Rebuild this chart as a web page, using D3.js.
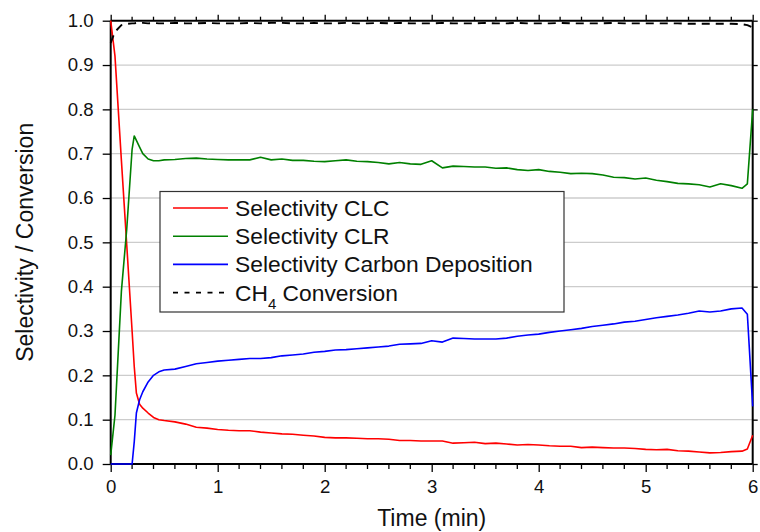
<!DOCTYPE html>
<html>
<head>
<meta charset="utf-8">
<script src="https://cdn.jsdelivr.net/npm/d3@7"></script>
<style>
  html, body { margin: 0; padding: 0; background: #fff; }
  svg { display: block; font-family: "Liberation Sans", Arial, sans-serif; }
</style>
</head>
<body>
<div id="chart"></div>
<script>
const W = 760, H = 532;
const M = { left: 110.7, right: 7.3, top: 20.7, bottom: 68 };

// time axis (min)
const timeMin = [0, 0.04, 0.1, 0.15, 0.2, 0.22, 0.24, 0.27, 0.3, 0.35, 0.4, 0.45, 0.5,
  0.6, 0.7, 0.8, 0.9, 1.0, 1.1, 1.2, 1.3, 1.4, 1.5,
  1.6, 1.7, 1.8, 1.9, 2.0, 2.1, 2.2, 2.3, 2.4, 2.5,
  2.6, 2.7, 2.8, 2.9, 3.0, 3.1, 3.2, 3.3, 3.4, 3.5,
  3.6, 3.7, 3.8, 3.9, 4.0, 4.1, 4.2, 4.3, 4.4, 4.5,
  4.6, 4.7, 4.8, 4.9, 5.0, 5.1, 5.2, 5.3, 5.4, 5.5,
  5.6, 5.7, 5.8, 5.9, 5.95, 6.0];

const selCLC = [1.0, 0.92, 0.685, 0.494, 0.30, 0.22, 0.16, 0.135, 0.126, 0.115, 0.105, 0.100, 0.098,
  0.095, 0.090, 0.083, 0.081, 0.078, 0.076, 0.075, 0.075, 0.072, 0.070,
  0.068, 0.067, 0.065, 0.063, 0.060, 0.059, 0.059, 0.058, 0.057, 0.057,
  0.056, 0.053, 0.053, 0.052, 0.052, 0.052, 0.047, 0.048, 0.049, 0.046,
  0.047, 0.045, 0.043, 0.044, 0.043, 0.041, 0.040, 0.040, 0.037, 0.038,
  0.037, 0.036, 0.036, 0.035, 0.033, 0.032, 0.033, 0.030, 0.029, 0.027,
  0.025, 0.026, 0.028, 0.029, 0.034, 0.065];

const selCLR = [0.02, 0.11, 0.39, 0.53, 0.71, 0.74, 0.73, 0.715, 0.70, 0.688, 0.684, 0.684, 0.686,
  0.687, 0.689, 0.690, 0.688, 0.687, 0.686, 0.686, 0.686, 0.692, 0.686,
  0.688, 0.685, 0.685, 0.683, 0.682, 0.684, 0.686, 0.683, 0.682, 0.680,
  0.677, 0.680, 0.677, 0.676, 0.684, 0.668, 0.672, 0.671, 0.670, 0.670,
  0.667, 0.668, 0.664, 0.662, 0.664, 0.660, 0.658, 0.655, 0.656, 0.655,
  0.652, 0.647, 0.646, 0.643, 0.645, 0.640, 0.637, 0.633, 0.632, 0.630,
  0.625, 0.632, 0.628, 0.622, 0.632, 0.80];

const selCarbon = [0, 0, 0, 0, 0, 0.05, 0.115, 0.145, 0.163, 0.185, 0.2, 0.208, 0.212,
  0.214, 0.220, 0.226, 0.229, 0.232, 0.234, 0.236, 0.238, 0.238, 0.240,
  0.244, 0.246, 0.248, 0.252, 0.254, 0.257, 0.258, 0.260, 0.262, 0.264,
  0.266, 0.270, 0.271, 0.272, 0.278, 0.275, 0.284, 0.283, 0.282, 0.282,
  0.282, 0.284, 0.288, 0.291, 0.293, 0.297, 0.300, 0.303, 0.306, 0.310,
  0.313, 0.316, 0.320, 0.322, 0.326, 0.330, 0.333, 0.336, 0.340, 0.345,
  0.343, 0.345, 0.350, 0.352, 0.338, 0.13];

const convCH4 = [0.95, 0.975, 0.99, 0.993, 0.994, 0.994, 0.995, 0.995, 0.995, 0.994, 0.995, 0.994, 0.994,
  0.995, 0.994, 0.994, 0.995, 0.994, 0.994, 0.994, 0.995, 0.994, 0.995,
  0.995, 0.994, 0.994, 0.995, 0.994, 0.994, 0.995, 0.994, 0.994, 0.995,
  0.994, 0.995, 0.994, 0.994, 0.994, 0.995, 0.994, 0.994, 0.994, 0.995,
  0.994, 0.994, 0.995, 0.994, 0.994, 0.994, 0.995, 0.994, 0.994, 0.994,
  0.994, 0.995, 0.994, 0.994, 0.994, 0.994, 0.994, 0.994, 0.993, 0.993,
  0.993, 0.993, 0.993, 0.992, 0.99, 0.985];

const xTicks = [0, 1, 2, 3, 4, 5, 6];
const yTicks = [0, 0.1, 0.2, 0.3, 0.4, 0.5, 0.6, 0.7, 0.8, 0.9, 1.0];
const seriesNames = ['Selectivity CLC', 'Selectivity CLR', 'Selectivity Carbon Deposition', 'CH4 Conversion'];
const seriesValues = [selCLC, selCLR, selCarbon, convCH4];
const seriesColors = ['#ff0000', '#008000', '#0000ff', '#000000'];
const seriesDash = [null, null, null, '8,6'];

const x = d3.scaleLinear().domain([0, 6]).range([M.left, W - M.right]);
const y = d3.scaleLinear().domain([0, 1]).range([H - M.bottom, M.top]);

const svg = d3.select('#chart').append('svg')
  .attr('width', W).attr('height', H);

// grid
svg.append('g')
  .selectAll('line')
  .data(yTicks.slice(1, -1))
  .join('line')
  .attr('x1', x(0)).attr('x2', x(6))
  .attr('y1', d => y(d)).attr('y2', d => y(d))
  .attr('stroke', '#cccccc').attr('stroke-width', 1.3);

const minor = x.ticks(30).filter(t => !xTicks.includes(t));

// bottom axis
const gx = svg.append('g')
  .attr('transform', `translate(0,${y(0)})`)
  .call(d3.axisBottom(x).tickValues(xTicks).tickFormat(d3.format('d')).tickSize(8).tickPadding(8));
gx.append('g').selectAll('line').data(minor).join('line')
  .attr('x1', d => x(d)).attr('x2', d => x(d)).attr('y1', 0).attr('y2', 5)
  .attr('stroke', '#000').attr('stroke-width', 1.3);

// top axis (ticks only)
const gt = svg.append('g')
  .attr('transform', `translate(0,${y(1)})`)
  .call(d3.axisTop(x).tickValues(xTicks).tickFormat('').tickSize(6));
gt.append('g').selectAll('line').data(minor).join('line')
  .attr('x1', d => x(d)).attr('x2', d => x(d)).attr('y1', 0).attr('y2', -4)
  .attr('stroke', '#000').attr('stroke-width', 1.3);

// left axis
const gy = svg.append('g')
  .attr('transform', `translate(${x(0)},0)`)
  .call(d3.axisLeft(y).tickValues(yTicks).tickFormat(d3.format('.1f')).tickSize(8).tickPadding(9));

// right axis (ticks only)
const gr = svg.append('g')
  .attr('transform', `translate(${x(6)},0)`)
  .call(d3.axisRight(y).tickValues(yTicks).tickFormat('').tickSize(5));

[gx, gt, gy, gr].forEach(g => {
  g.select('.domain').attr('stroke', '#000').attr('stroke-width', 2);
  g.selectAll('.tick line').attr('stroke', '#000').attr('stroke-width', 1.3);
  g.selectAll('.tick text').attr('font-size', 18.6).attr('fill', '#111')
    .attr('font-family', '"Liberation Sans", Arial, sans-serif');
});
gx.select('.domain').attr('d', `M${x(0)},0H${x(6)}`);
gt.select('.domain').attr('d', `M${x(0)},0H${x(6)}`);
gy.select('.domain').attr('d', `M0,${y(0)}V${y(1)}`);
gr.select('.domain').attr('d', `M0,${y(0)}V${y(1)}`);

// series lines
const line = d3.line().x((d, i) => x(timeMin[i])).y(d => y(d));
seriesValues.forEach((vals, k) => {
  svg.append('path')
    .attr('d', line(vals))
    .attr('fill', 'none')
    .attr('stroke', seriesColors[k])
    .attr('stroke-width', k === 3 ? 1.9 : 1.6)
    .attr('stroke-linejoin', 'round')
    .attr('stroke-dasharray', seriesDash[k]);
});

// axis titles
svg.append('text')
  .attr('x', (x(0) + x(6)) / 2).attr('y', 526)
  .attr('text-anchor', 'middle').attr('font-size', 23).attr('fill', '#111')
  .text('Time (min)');
svg.append('text')
  .attr('transform', `translate(33,${(y(0) + y(1)) / 2}) rotate(-90)`)
  .attr('text-anchor', 'middle').attr('font-size', 23).attr('fill', '#111')
  .text('Selectivity / Conversion');

// legend
const lg = svg.append('g');
lg.append('rect')
  .attr('x', 160).attr('y', 191.5).attr('width', 404).attr('height', 120.5)
  .attr('fill', '#fff').attr('stroke', '#333').attr('stroke-width', 1.2);
seriesNames.forEach((name, k) => {
  const cy = 208 + k * 28.2;
  lg.append('line')
    .attr('x1', 173).attr('x2', 228).attr('y1', cy).attr('y2', cy)
    .attr('stroke', seriesColors[k]).attr('stroke-width', 1.6)
    .attr('stroke-dasharray', k === 3 ? '5,6.5' : null);
  const t = lg.append('text')
    .attr('x', 235).attr('y', cy + 8)
    .attr('font-size', 22.8).attr('fill', '#111');
  if (name.startsWith('CH4')) {
    t.append('tspan').text('CH');
    t.append('tspan').attr('font-size', 15).attr('dy', 8).text('4');
    t.append('tspan').attr('dy', -8).text(' Conversion');
  } else {
    t.text(name);
  }
});
</script>
</body>
</html>
